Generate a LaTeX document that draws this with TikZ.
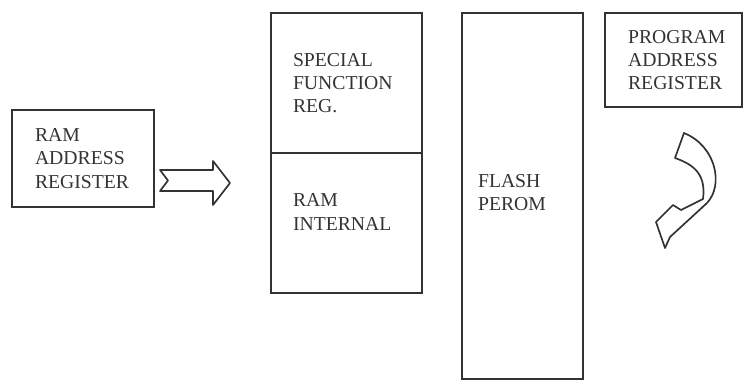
\documentclass[tikz,border=0pt]{standalone}
\usepackage{fontspec}
\setmainfont{Liberation Serif}
\usetikzlibrary{positioning}
\definecolor{ink}{HTML}{333333}

\begin{document}
\begin{tikzpicture}[
    x=0.025cm, y=-0.025cm,
    every node/.style={inner sep=0pt, outer sep=0pt},
    box/.style={rectangle, draw=ink, line width=1.3pt, anchor=north west},
    lbl/.style={align=left, text=ink, font=\fontsize{14}{16.5}\selectfont},
    hollow/.style={draw=ink, line width=1.2pt, line join=round, fill=white}
]
\useasboundingbox (0,0) rectangle (744,384);
% Register and memory blocks
\node[box, minimum width=3.55cm, minimum height=2.425cm] (ramaddr) at (12,110) {};
\node[box, minimum width=3.775cm, minimum height=3.5cm] (sfr) at (271,13) {};
\node[box, minimum width=3.775cm, minimum height=3.5cm, below=0pt of sfr.south west, anchor=north west] (ramint) {};
\node[box, minimum width=3.025cm, minimum height=9.15cm, right=1cm of sfr.north east, anchor=north west] (flash) {};
\node[box, minimum width=3.425cm, minimum height=2.35cm, right=0.55cm of flash.north east, anchor=north west] (pgmaddr) {};
% Labels
\node[lbl, right=0.575cm of ramaddr.west] (ramaddrtxt) {RAM\\ADDRESS\\REGISTER};
\node[lbl, right=0.55cm of sfr.west] (sfrtxt) {SPECIAL\\FUNCTION\\REG.};
\node[lbl, right=0.55cm of ramint.west, yshift=0.275cm] (raminttxt) {RAM\\INTERNAL};
\node[lbl, right=0.4cm of flash.west, yshift=0.09cm] (flashtxt) {FLASH\\PEROM};
\node[lbl, right=0.575cm of pgmaddr.west] (pgmaddrtxt) {PROGRAM\\ADDRESS\\REGISTER};
% Hollow arrows
\draw[hollow] (160,170) -- (213,170) -- (213,161) -- (230,183) -- (213,205) -- (213,191)
    -- (160,191) -- (168,180.5) -- cycle;
\draw[hollow] (684,133) .. controls (716,146) and (724,185) .. (707,203)
    -- (670,237) -- (665,248) -- (656,222) -- (673,205) -- (681,210) -- (703,199)
    .. controls (706,175) and (695,165) .. (675,158) -- cycle;
\end{tikzpicture}
\end{document}
